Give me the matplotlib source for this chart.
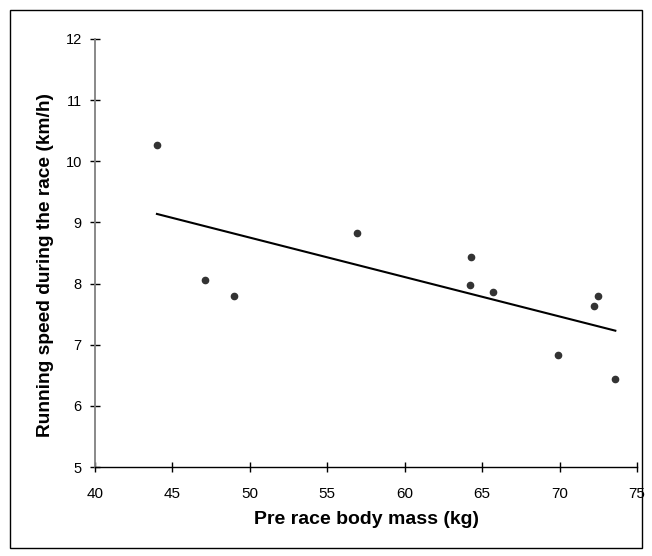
import matplotlib
matplotlib.use("Agg")
import matplotlib.pyplot as plt
import numpy as np
from matplotlib.patches import Rectangle

plt.rcParams["font.family"] = ["Liberation Sans", "DejaVu Sans"]

# pre race body mass (kg) and running speed (km/h)
body_mass = [44.0, 47.1, 49.0, 56.9, 64.3, 64.2, 65.7, 69.9, 72.2, 72.5, 73.6]
speed = [10.26, 8.06, 7.79, 8.82, 8.44, 7.98, 7.87, 6.84, 7.63, 7.79, 6.44]

x_ticks = [40, 45, 50, 55, 60, 65, 70, 75]
y_ticks = [5, 6, 7, 8, 9, 10, 11, 12]

fig = plt.figure(figsize=(6.52, 5.56), dpi=100)
ax = fig.add_axes([0.1457, 0.160, 0.8313, 0.770])

# outer frame
fig.patches.append(Rectangle((0.016, 0.014), 0.968, 0.968, transform=fig.transFigure,
                             fill=False, edgecolor="black", linewidth=1.0))

ax.plot(body_mass, speed, "o", color="#333333", markersize=4.5, zorder=3)

# linear trend line
slope, intercept = np.polyfit(body_mass, speed, 1)
xs = np.array([min(body_mass), max(body_mass)])
ax.plot(xs, slope * xs + intercept, color="black", linewidth=1.5, zorder=2)

ax.set_xlim(40, 75)
ax.set_ylim(5, 12)
ax.set_xticks(x_ticks)
ax.set_yticks(y_ticks)

for s in ["top", "right"]:
    ax.spines[s].set_visible(False)
ax.spines["left"].set_color("#808080")
ax.spines["left"].set_linewidth(1.3)
ax.spines["bottom"].set_color("black")
ax.spines["bottom"].set_linewidth(1.0)

ax.tick_params(axis="both", direction="inout", length=7, width=1.0)
ax.tick_params(axis="y", pad=6, labelsize=10.5)
ax.tick_params(axis="x", pad=11, labelsize=11)

ax.set_xlabel("Pre race body mass (kg)", fontsize=14, fontweight="bold", labelpad=7)
ax.set_ylabel("Running speed during the race (km/h)", fontsize=13.8, fontweight="bold", labelpad=8)
ax.yaxis.label.set_y(0.472)

fig.savefig("out.png", dpi=100)
